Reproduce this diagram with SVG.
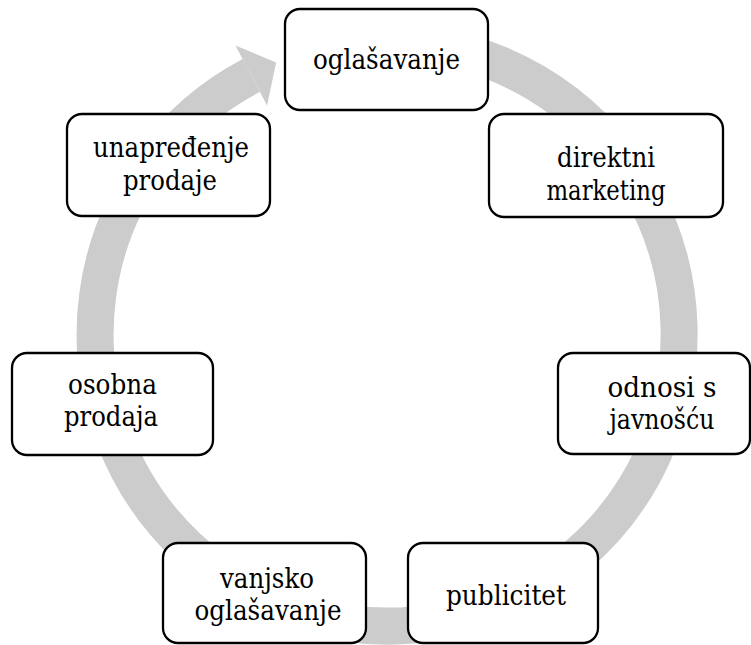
<svg xmlns="http://www.w3.org/2000/svg" width="751" height="645" viewBox="0 0 751 645">
<style>
.box{fill:#fff;stroke:#000;stroke-width:2.3}
.t{font-family:"DejaVu Serif",serif;font-size:27px;fill:#000;text-anchor:middle}
</style>
<rect width="751" height="645" fill="#fff"/>
<g id="connectors">
<path d="M412.5,43.1 A292,292 0 1 1 251.3,75.5" fill="none" stroke="#CCCCCC" stroke-width="37"/>
<polygon points="235.5,45.4 276.1,62.5 267.1,105.6" fill="#CCCCCC"/>
</g>
<g id="n1"><rect class="box" x="285" y="9" width="203" height="101" rx="15"/><text class="t" x="386.5" y="68.5" textLength="147" lengthAdjust="spacingAndGlyphs">oglašavanje</text></g>
<g id="n2"><rect class="box" x="489" y="114" width="234" height="103" rx="15"/><text class="t" x="606" y="167" textLength="98" lengthAdjust="spacingAndGlyphs">direktni</text><text class="t" x="606" y="200" textLength="119" lengthAdjust="spacingAndGlyphs">marketing</text></g>
<g id="n3"><rect class="box" x="558" y="353" width="192" height="101" rx="15"/><text class="t" x="662" y="397" textLength="109" lengthAdjust="spacingAndGlyphs">odnosi s</text><text class="t" x="662" y="429" textLength="105" lengthAdjust="spacingAndGlyphs">javnošću</text></g>
<g id="n4"><rect class="box" x="408" y="543" width="190" height="100" rx="15"/><text class="t" x="506" y="605" textLength="120" lengthAdjust="spacingAndGlyphs">publicitet</text></g>
<g id="n5"><rect class="box" x="163" y="543" width="203" height="100" rx="15"/><text class="t" x="267" y="588" textLength="94" lengthAdjust="spacingAndGlyphs">vanjsko</text><text class="t" x="268" y="620" textLength="147" lengthAdjust="spacingAndGlyphs">oglašavanje</text></g>
<g id="n6"><rect class="box" x="12" y="353" width="201" height="102" rx="15"/><text class="t" x="112.5" y="394" textLength="89" lengthAdjust="spacingAndGlyphs">osobna</text><text class="t" x="111" y="426" textLength="94" lengthAdjust="spacingAndGlyphs">prodaja</text></g>
<g id="n7"><rect class="box" x="67" y="114" width="203" height="102" rx="15"/><text class="t" x="171" y="157" textLength="156" lengthAdjust="spacingAndGlyphs">unapređenje</text><text class="t" x="170" y="190" textLength="94" lengthAdjust="spacingAndGlyphs">prodaje</text></g>
</svg>
